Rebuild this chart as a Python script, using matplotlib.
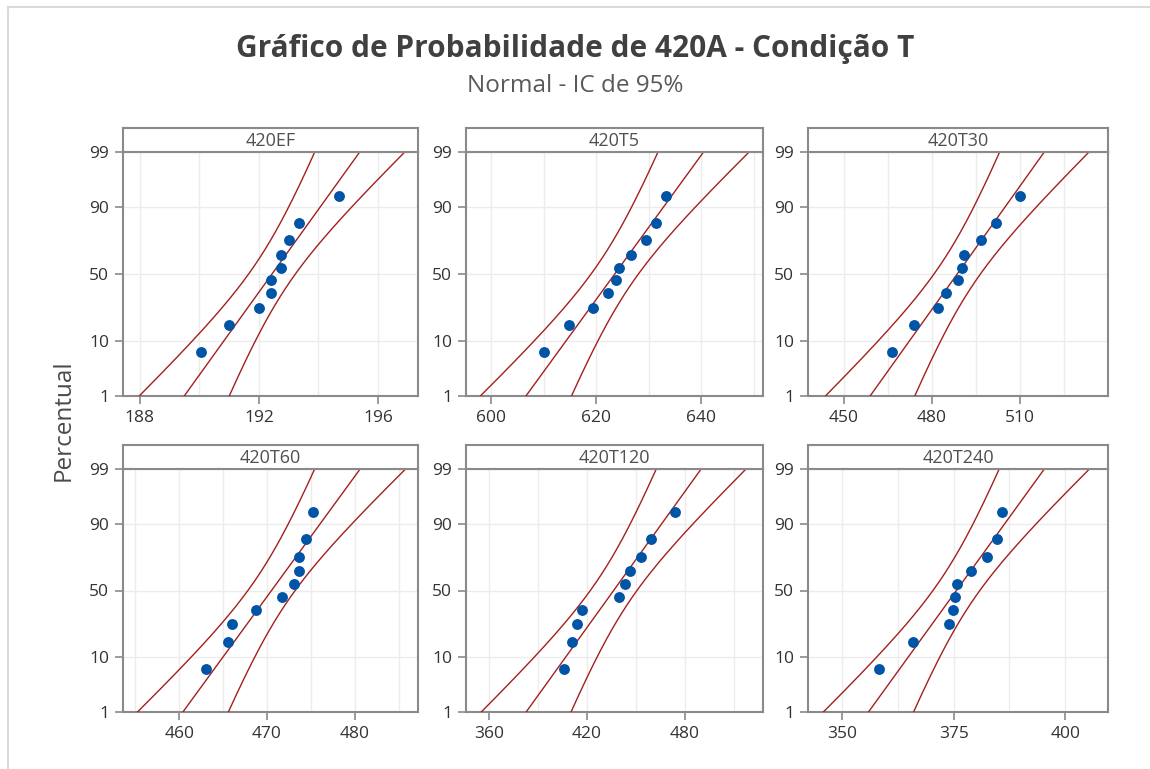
import matplotlib
matplotlib.use("Agg")
import matplotlib.pyplot as plt
from matplotlib.lines import Line2D
import numpy as np
from statistics import NormalDist

plt.rcParams["font.family"] = ["Open Sans", "DejaVu Sans"]

# Amostras (n = 10 por condição)
amostras = ["420EF", "420T5", "420T30", "420T60", "420T120", "420T240"]
valores_420EF = [190.05, 191.0, 192.0, 192.4, 192.4, 192.75, 192.75, 193.0, 193.35, 194.7]
valores_420T5 = [610.0, 614.9, 619.4, 622.2, 623.7, 624.4, 626.7, 629.4, 631.3, 633.2]
valores_420T30 = [466.5, 473.9, 482.2, 484.9, 488.8, 490.2, 491.0, 496.8, 501.7, 509.8]
valores_420T60 = [463.0, 465.6, 466.0, 468.8, 471.7, 473.1, 473.6, 473.6, 474.5, 475.25]
valores_420T120 = [406.1, 411.0, 413.7, 417.1, 439.5, 443.1, 446.6, 452.8, 458.9, 473.9]
valores_420T240 = [358.3, 365.9, 373.9, 374.85, 375.4, 375.8, 378.9, 382.5, 384.8, 385.8]
dados = [valores_420EF, valores_420T5, valores_420T30,
         valores_420T60, valores_420T120, valores_420T240]

# Escalas do eixo x de cada painel
limites_x = [(187.44, 197.34), (595.2, 651.75), (437.9, 539.8),
             (453.6, 487.2), (345.7, 527.9), (342.4, 409.55)]
ticks_x = [[188, 192, 196], [600, 620, 640], [450, 480, 510],
           [460, 470, 480], [360, 420, 480], [350, 375, 400]]
passo_grade = [2, 10, 15, 5, 30, 12.5]

percentuais = [1, 10, 50, 90, 99]
nivel_ic = 0.95

nd = NormalDist()
zq = nd.inv_cdf

W, H = 1150, 769
fig = plt.figure(figsize=(W / 100, H / 100), dpi=100)
fig.patch.set_facecolor("white")

# moldura clara (esquerda e topo)
fig.add_artist(Line2D([8 / W, 8 / W], [0, 1 - 7 / H], color="#dadada", lw=1.5))
fig.add_artist(Line2D([8 / W, 1], [1 - 7 / H, 1 - 7 / H], color="#dadada", lw=1.5))

fig.text(0.5, 1 - 49 / H, "Gráfico de Probabilidade de 420A - Condição T",
         ha="center", va="center", fontsize=21.5, fontweight="bold", color="#404040")
fig.text(0.5, 1 - 86 / H, "Normal - IC de 95%", ha="center", va="center",
         fontsize=17.5, color="#5a5a5a")
fig.text(64 / W, 1 - 420 / H, "Percentual", rotation=90, ha="center", va="center",
         fontsize=17.5, color="#4a4a4a")

col_x = [(123, 418), (466, 763), (808, 1108)]
row_y = [(152, 396), (469, 712)]
strip_h = 24

cor_eixo = "#8a8a8a"
cor_linha = "#a3201f"
cor_ponto = "#0054a6"

z_lo, z_hi = zq(0.01), zq(0.99)
zc = NormalDist().inv_cdf(0.5 + nivel_ic / 2)

for k, (nome, vals) in enumerate(zip(amostras, dados)):
    r, c = divmod(k, 3)
    x0, x1 = col_x[c]
    yt, yb = row_y[r]
    ax = fig.add_axes([x0 / W, 1 - yb / H, (x1 - x0) / W, (yb - yt) / H])

    x = np.sort(np.array(vals, dtype=float))
    n = len(x)
    pos = (np.arange(1, n + 1) - 0.3) / (n + 0.4)
    zpts = np.array([zq(p) for p in pos])
    mu = x.mean()
    s = x.std(ddof=1)

    zg = np.linspace(z_lo, z_hi, 300)
    ajuste = mu + s * zg
    se = s * np.sqrt(1.0 / n + zg ** 2 / (2.0 * n))
    ax.plot(ajuste, zg, color=cor_linha, lw=1.0, zorder=3)
    ax.plot(ajuste - zc * se, zg, color=cor_linha, lw=1.0, zorder=3)
    ax.plot(ajuste + zc * se, zg, color=cor_linha, lw=1.0, zorder=3)
    ax.plot(x, zpts, "o", color=cor_ponto, ms=6.8, mec=cor_ponto, zorder=4)

    ax.set_xlim(*limites_x[k])
    ax.set_ylim(z_lo, z_hi)
    ax.set_yticks([zq(p / 100) for p in percentuais])
    ax.set_yticklabels([str(p) for p in percentuais])
    ax.set_xticks(ticks_x[k])
    ax.set_xticklabels([str(t) for t in ticks_x[k]])

    lo, hi = limites_x[k]
    st = passo_grade[k]
    g = np.arange(np.ceil(lo / st) * st, hi, st)
    for gv in g:
        ax.axvline(gv, color="#ececec", lw=1.0, zorder=0)
    for p in percentuais[1:-1]:
        ax.axhline(zq(p / 100), color="#ececec", lw=1.0, zorder=0)

    for sp in ax.spines.values():
        sp.set_color(cor_eixo)
        sp.set_linewidth(1.5)
    ax.tick_params(axis="both", direction="out", length=6, width=1.2,
                   color=cor_eixo, labelsize=12.5, labelcolor="#333333", pad=4)

    sax = fig.add_axes([x0 / W, 1 - yt / H, (x1 - x0) / W, strip_h / H])
    sax.set_xticks([])
    sax.set_yticks([])
    for sp in sax.spines.values():
        sp.set_color(cor_eixo)
        sp.set_linewidth(1.5)
    sax.text(0.5, 0.45, nome, ha="center", va="center", fontsize=13,
             color="#505050", transform=sax.transAxes)

fig.savefig("out.png", dpi=100)
